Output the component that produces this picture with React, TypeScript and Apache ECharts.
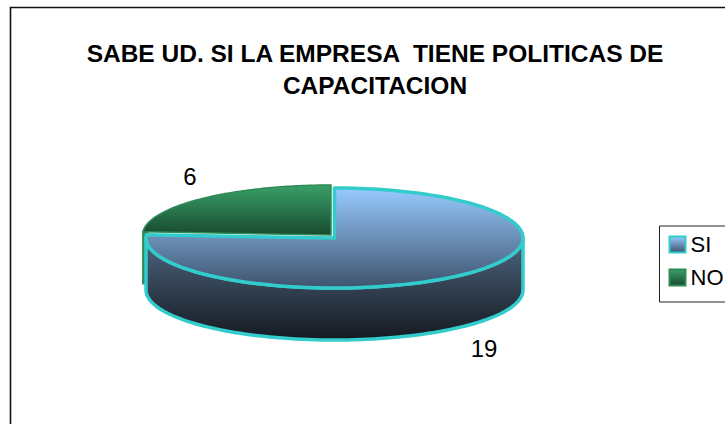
import React, { useEffect, useRef } from "react";
import * as echarts from "echarts";

const titleLines = ["SABE UD. SI LA EMPRESA  TIENE POLITICAS DE", "CAPACITACION"];
const categories = ["SI", "NO"];
const values = [19, 6];
const total = values.reduce((a, b) => a + b, 0);

const G = (stops: [number, string][]) =>
  new echarts.graphic.LinearGradient(0, 0, 0, 1, stops.map(([offset, color]) => ({ offset, color })));

const RX = 188.5;
const RY = 50;
const DEPTH = 52;

function pt(cx: number, cy: number, a: number) {
  return [cx + RX * Math.sin(a), cy - RY * Math.cos(a)];
}
function arc(cx: number, cy: number, a0: number, a1: number) {
  const n = 90;
  const out: number[][] = [];
  for (let i = 0; i <= n; i++) out.push(pt(cx, cy, a0 + ((a1 - a0) * i) / n));
  return out;
}

const startAngles = [0, (values[0] / total) * Math.PI * 2];
const endAngles = [(values[0] / total) * Math.PI * 2, Math.PI * 2];
const labelFont = '24px "Liberation Sans"';

function renderSlice(idx: number) {
  return (_p: any, api: any) => {
    const a0 = startAngles[idx];
    const a1 = endAngles[idx];
    if (idx === 0) {
      const cx = 334.5, cy = 238;
      const front = arc(cx, cy, Math.PI / 2, (3 * Math.PI) / 2);
      const wall = [...front, ...front.map(([x, y]) => [x, y + DEPTH]).reverse()];
      const top = [[cx, cy], ...arc(cx, cy, a0, a1)];
      const line = { stroke: "#33cccc", lineWidth: 3.5, lineJoin: "round" };
      return {
        type: "group",
        children: [
          { type: "polygon", shape: { points: wall }, style: { fill: G([[0, "#4f6681"], [1, "#141920"]]), ...line } },
          { type: "polygon", shape: { points: top }, style: { fill: G([[0, "#97caff"], [1, "#3e536d"]]), ...line } },
          { type: "text", style: { text: String(api.value(0)), x: 484, y: 348, align: "center", verticalAlign: "middle", font: labelFont, fill: "#000" } },
        ],
      };
    }
    const cx = 331, cy = 235;
    const left = pt(cx, cy, a0);
    const top = [[cx, cy], ...arc(cx, cy, a0, a1)];
    const wall = [left, [left[0] + 5, left[1]], [left[0] + 5, left[1] + DEPTH], [left[0], left[1] + DEPTH]];
    const line = { stroke: "#2e8b57", lineWidth: 1.5 };
    return {
      type: "group",
      children: [
        { type: "polygon", shape: { points: wall }, style: { fill: "#2e8b57", ...line } },
        { type: "polygon", shape: { points: top }, style: { fill: G([[0, "#38a068"], [1, "#184a30"]]), ...line } },
        { type: "text", style: { text: String(api.value(0)), x: 190, y: 176, align: "center", verticalAlign: "middle", font: labelFont, fill: "#000" } },
      ],
    };
  };
}

export default function App() {
  const ref = useRef<HTMLDivElement>(null);
  useEffect(() => {
    const chart = echarts.init(ref.current!, null, { renderer: "svg" });
    chart.setOption({
      animation: false,
      backgroundColor: "#fff",
      title: {
        text: titleLines.join("\n"),
        left: 370,
        top: 32,
        textAlign: "center",
        textStyle: { fontFamily: "Liberation Sans", fontWeight: "bold", fontSize: 24.5, lineHeight: 32, color: "#000" },
      },
      legend: {
        data: categories,
        orient: "vertical",
        left: 668.5,
        top: 233.5,
        itemWidth: 16,
        itemHeight: 16,
        itemGap: 11,
        padding: 0,
        icon: "rect",
        textStyle: { fontFamily: "Liberation Sans", fontSize: 22, color: "#000", padding: [0, 0, 4, 0] },
      },
      graphic: [
        { type: "polyline", silent: true, shape: { points: [[10.5, 424], [10.5, 7.5], [725, 7.5]] }, style: { stroke: "#111", lineWidth: 1.6, fill: "none" } },
        { type: "polyline", silent: true, shape: { points: [[725, 226], [659.5, 226], [659.5, 302], [725, 302]] }, style: { stroke: "#222", lineWidth: 1, fill: "none" } },
      ],
      series: categories.map((name, i) => ({
        type: "custom",
        name,
        coordinateSystem: "none",
        silent: true,
        data: [values[i]],
        itemStyle:
          i === 0
            ? { color: G([[0, "#97caff"], [1, "#3e536d"]]), borderColor: "#33cccc", borderWidth: 3 }
            : { color: G([[0, "#38a068"], [1, "#184a30"]]), borderColor: "#2e8b57", borderWidth: 1 },
        z: i === 0 ? 3 : 2,
        renderItem: renderSlice(i),
      })),
    });
    return () => chart.dispose();
  }, []);
  return <div ref={ref} style={{ position: "absolute", left: 0, top: 0, width: 725, height: 424 }} />;
}
